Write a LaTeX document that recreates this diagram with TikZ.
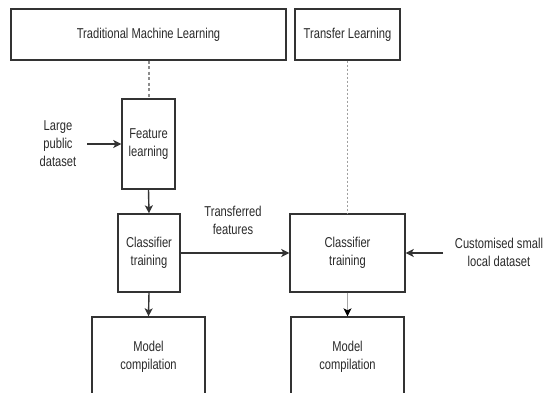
\documentclass[tikz,border=0pt]{standalone}
\usepackage{fontspec}
\setmainfont{Liberation Sans}[FakeStretch=0.78]
\usetikzlibrary{arrows.meta}
\definecolor{linec}{HTML}{333333}
\definecolor{txtc}{HTML}{2A2A2A}
\definecolor{dashc}{HTML}{8C8C8C}
\definecolor{dotc}{HTML}{A0A0A0}
\tikzset{
  box/.style={draw=linec, line width=1.4pt, fill=white, inner sep=0pt, align=center, text=txtc},
  lbl/.style={inner sep=0pt, align=center, text=txtc},
  arr/.style={draw=linec, line width=1.4pt, -{Stealth[length=8pt,width=8pt,inset=2pt]}},
  thinarr/.style={draw=gray!70, line width=0.9pt, -{Stealth[length=8pt,width=8pt,inset=2pt,color=black,fill=black]}},
  dashline/.style={draw=dashc, line width=2pt, dash pattern=on 3pt off 2.5pt},
  dotline/.style={draw=dotc, line width=1.6pt, dash pattern=on 2pt off 2pt},
}
\begin{document}
\begin{tikzpicture}[x=1pt,y=-1pt,font=\fontsize{14.3}{18}\selectfont]
\useasboundingbox (0,0) rectangle (544,393);
\clip (0,0) rectangle (544,393);
\fill[white] (0,0) rectangle (544,393);
% boxes
\node[box, minimum width=275pt, minimum height=51pt] (tml) at (148.5,34.5) {Traditional Machine Learning};
\node[box, minimum width=105pt, minimum height=51pt] (tl) at (347.5,34.5) {Transfer Learning};
\node[box, minimum width=53pt, minimum height=90pt] (fl) at (148.5,144) {Feature\\learning};
\node[box, minimum width=62pt, minimum height=78pt] (ct1) at (149,253) {Classifier\\training};
\node[box, minimum width=115pt, minimum height=78pt] (ct2) at (347.5,253) {Classifier\\training};
\node[box, minimum width=113pt, minimum height=79pt] (mc1) at (148.5,356.5) {Model\\compilation};
\node[box, minimum width=113pt, minimum height=79pt] (mc2) at (347.5,356.5) {Model\\compilation};
% labels
\node[lbl] (lpd) at (58,144) {Large\\public\\dataset};
\node[lbl] (tf) at (233,220) {Transferred\\features};
\node[lbl] (csl) at (499,252.5) {Customised small\\local dataset};
\coordinate (lpdend) at (87,144);
\coordinate (cslend) at (443,253);
% connectors
\draw[dashline] (tml.south) -- (fl.north);
\draw[dotline] (tl.south) -- (ct2.north);
\draw[arr] (lpdend) -- (fl.west);
\draw[arr] (fl.south) -- (ct1.north);
\draw[arr] (ct1.south) -- (mc1.north);
\draw[arr] (ct1.east) -- (ct2.west);
\draw[arr] (cslend) -- (ct2.east);
\draw[thinarr] (ct2.south) -- (mc2.north);
\end{tikzpicture}
\end{document}
